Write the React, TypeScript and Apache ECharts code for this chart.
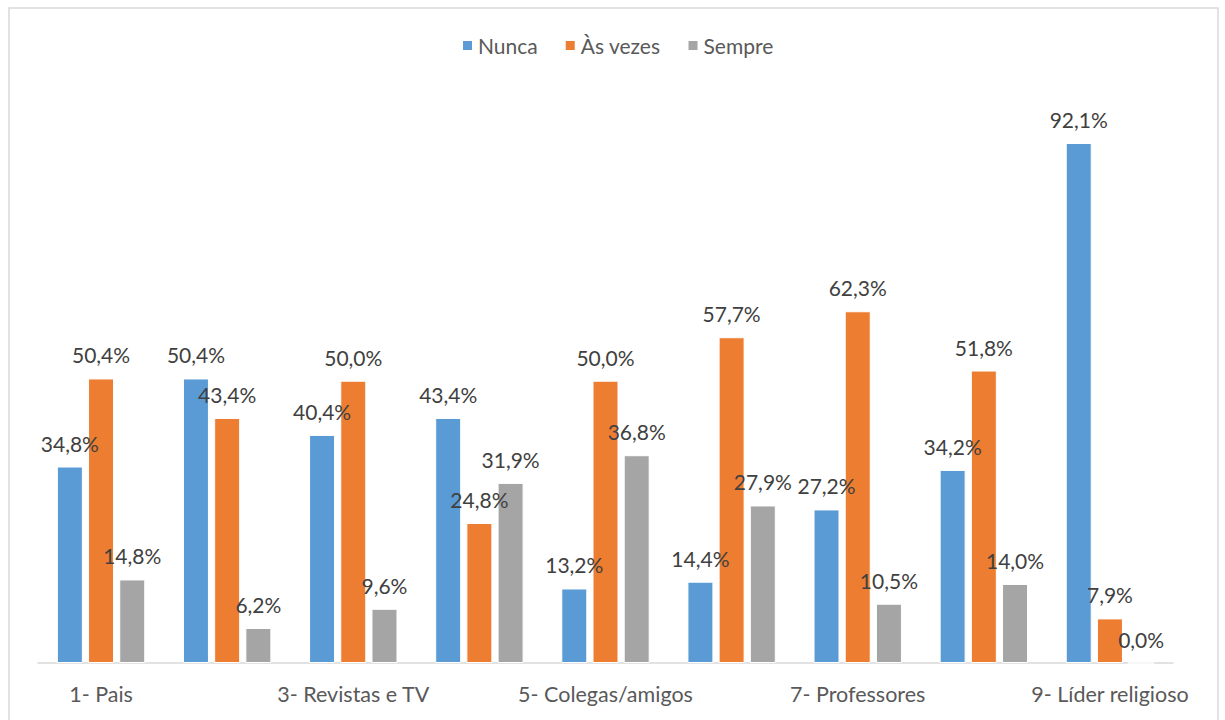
import React, { useEffect, useRef } from "react";
import * as echarts from "echarts";

const categories = [
  "1- Pais",
  "2-",
  "3- Revistas e TV",
  "4-",
  "5- Colegas/amigos",
  "6-",
  "7- Professores",
  "8-",
  "9- Líder religioso",
];
const nunca = [34.8, 50.4, 40.4, 43.4, 13.2, 14.4, 27.2, 34.2, 92.1];
const asVezes = [50.4, 43.4, 50.0, 24.8, 50.0, 57.7, 62.3, 51.8, 7.9];
const sempre = [14.8, 6.2, 9.6, 31.9, 36.8, 27.9, 10.5, 14.0, 0.0];
const seriesNames = ["Nunca", "Às vezes", "Sempre"];
const colors = ["#5B9BD5", "#ED7D31", "#A5A5A5"];

const FONT = "Lato, 'Open Sans', sans-serif";

export default function App() {
  const ref = useRef<HTMLDivElement>(null);
  useEffect(() => {
    if (!ref.current) return;
    const chart = echarts.init(ref.current, undefined, { renderer: "svg" });
    const values = [nunca, asVezes, sempre];
    chart.setOption({
      animation: false,
      backgroundColor: "#ffffff",
      textStyle: { fontFamily: FONT },
      graphic: [
        {
          type: "rect",
          shape: { x: 9, y: 8, width: 1209, height: 730 },
          style: { fill: "none", stroke: "#D9D9D9", lineWidth: 1.5 },
          silent: true,
        },
      ],
      legend: {
        top: 30,
        left: 456,
        icon: "rect",
        itemWidth: 11,
        itemHeight: 11,
        itemGap: 26,
        textStyle: { fontSize: 21, color: "#595959", fontFamily: FONT },
        data: seriesNames,
      },
      grid: { left: 38, right: 52, top: 98.4, bottom: 57, containLabel: false },
      xAxis: {
        type: "category",
        data: categories,
        axisLine: { lineStyle: { color: "#D9D9D9", width: 1.5 } },
        axisTick: { show: false },
        axisLabel: {
          interval: 1,
          fontSize: 21.5,
          color: "#595959",
          margin: 20,
          fontFamily: FONT,
        },
      },
      yAxis: {
        type: "value",
        min: 0,
        max: 100,
        show: false,
        splitLine: { show: false },
      },
      series: seriesNames.map((name, i) => ({
        name,
        type: "bar",
        data: values[i],
        barWidth: 26,
        barGap: "20%",
        itemStyle: { color: colors[i], borderColor: "#ffffff", borderWidth: 1 },
        label: {
          show: true,
          position: "top",
          distance: 13,
          fontSize: 21,
          color: "#404040",
          fontFamily: FONT,
          formatter: (p: any) => p.value.toFixed(1).replace(".", ",") + "%",
        },
      })),
    });
    return () => chart.dispose();
  }, []);
  return (
    <div
      ref={ref}
      style={{ position: "absolute", left: 0, top: 0, width: 1225, height: 720 }}
    />
  );
}
